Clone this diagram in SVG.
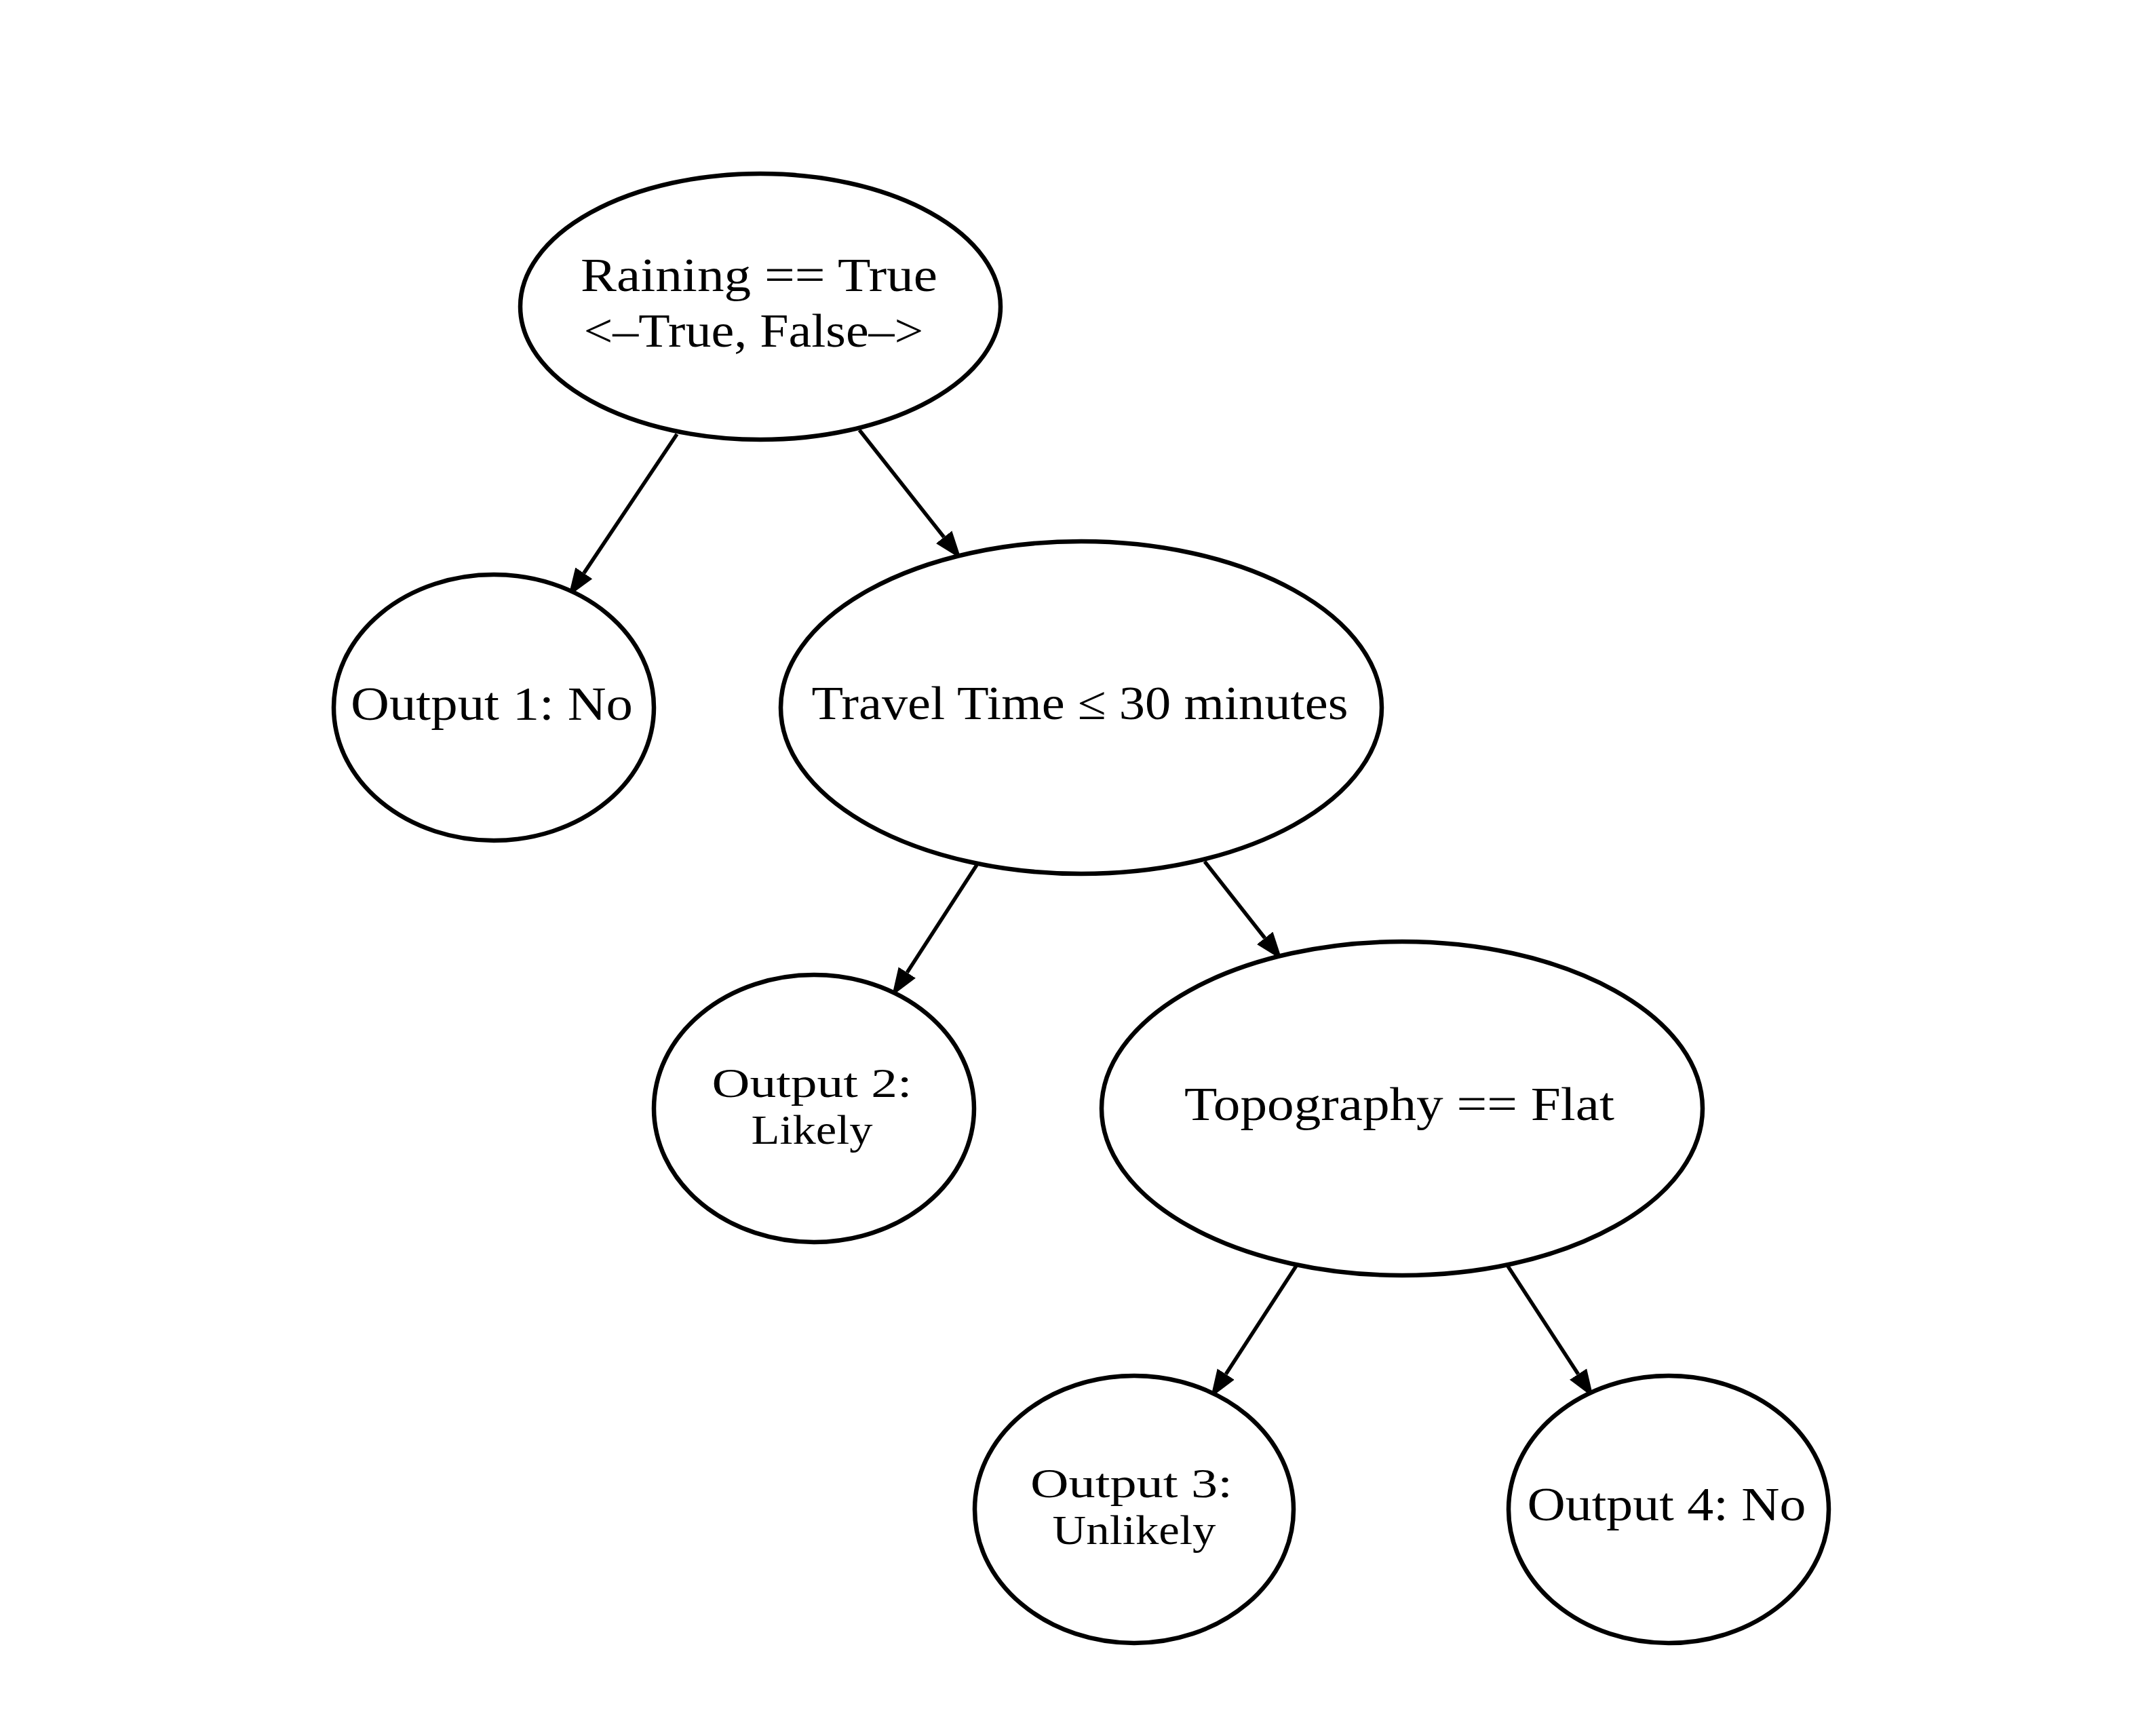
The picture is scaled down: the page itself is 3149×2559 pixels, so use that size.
<svg xmlns="http://www.w3.org/2000/svg" width="3149" height="2559" viewBox="0 0 3149 2559">
  <style>
    .node ellipse { fill: #ffffff; stroke: #000000; stroke-width: 6.5; }
    .node text { font-family: "Liberation Serif", "DejaVu Serif", serif; font-size: 70px; fill: #000000; text-anchor: middle; }
    .node text.two { font-size: 62px; }
    .edge { fill: none; stroke: #000000; stroke-width: 5.5; stroke-linecap: butt; marker-end: url(#arrow); }
  </style>
  <defs>
    <marker id="arrow" markerUnits="userSpaceOnUse" markerWidth="42" markerHeight="32" viewBox="0 -16 42 32" refX="0" refY="0" orient="auto">
      <path d="M0,-15 L41,0 L0,15 Z" fill="#000000"/>
    </marker>
  </defs>
  <rect width="3149" height="2559" fill="#ffffff"/>

  <g id="connectors">
    <line class="edge" x1="998" y1="640" x2="860.8" y2="844.9"/>
    <line class="edge" x1="1267" y1="634" x2="1391.6" y2="791.8"/>
    <line class="edge" x1="1440" y1="1275" x2="1337.3" y2="1433.6"/>
    <line class="edge" x1="1776" y1="1270" x2="1864.7" y2="1382.8"/>
    <line class="edge" x1="1911" y1="1866" x2="1807.3" y2="2025.6"/>
    <line class="edge" x1="2222" y1="1865" x2="2326.6" y2="2025.6"/>
  </g>

  <g id="node-raining" class="node">
    <ellipse cx="1121" cy="452" rx="354" ry="196"/>
    <text x="1119" y="429" textLength="526" lengthAdjust="spacingAndGlyphs">Raining == True</text>
    <text x="1111" y="511" textLength="501" lengthAdjust="spacingAndGlyphs">&lt;–True, False–&gt;</text>
  </g>

  <g id="node-output1" class="node">
    <ellipse cx="728" cy="1043" rx="236" ry="196"/>
    <text x="725" y="1061" textLength="416" lengthAdjust="spacingAndGlyphs">Output 1: No</text>
  </g>

  <g id="node-travel" class="node">
    <ellipse cx="1594" cy="1043" rx="443" ry="245"/>
    <text x="1592" y="1060" textLength="791" lengthAdjust="spacingAndGlyphs">Travel Time ≤ 30 minutes</text>
  </g>

  <g id="node-output2" class="node">
    <ellipse cx="1200" cy="1634" rx="236" ry="197"/>
    <text class="two" x="1197" y="1617" textLength="295" lengthAdjust="spacingAndGlyphs">Output 2:</text>
    <text class="two" x="1197" y="1686" textLength="179" lengthAdjust="spacingAndGlyphs">Likely</text>
  </g>

  <g id="node-topography" class="node">
    <ellipse cx="2067" cy="1634" rx="443" ry="246"/>
    <text x="2063" y="1651" textLength="634" lengthAdjust="spacingAndGlyphs">Topography == Flat</text>
  </g>

  <g id="node-output3" class="node">
    <ellipse cx="1672" cy="2225" rx="235" ry="197"/>
    <text class="two" x="1668" y="2207" textLength="298" lengthAdjust="spacingAndGlyphs">Output 3:</text>
    <text class="two" x="1672" y="2276" textLength="241" lengthAdjust="spacingAndGlyphs">Unlikely</text>
  </g>

  <g id="node-output4" class="node">
    <ellipse cx="2460" cy="2225" rx="236" ry="197"/>
    <text x="2457" y="2241" textLength="411" lengthAdjust="spacingAndGlyphs">Output 4: No</text>
  </g>
</svg>
